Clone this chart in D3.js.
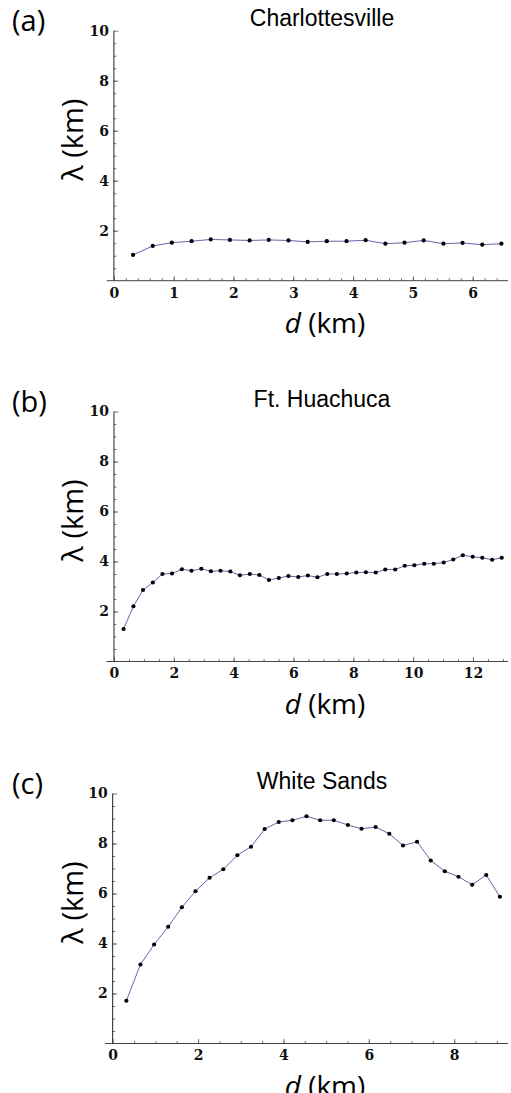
<!DOCTYPE html>
<html>
<head>
<meta charset="utf-8">
<script src="https://cdn.jsdelivr.net/npm/d3@7"></script>
<style>
  body { margin: 0; background: #fff; }
  .tick text { font-family: "DejaVu Serif", serif; font-weight: bold; font-size: 14px; fill: #111; }
  .tick line { stroke: #555; stroke-width: 0.8; }
</style>
</head>
<body>
<div id="vis-container"></div>
<script>
// lambda (km) vs d (km)
var dA = [0.32, 0.65, 0.97, 1.30, 1.62, 1.94, 2.27, 2.59, 2.92, 3.24, 3.56, 3.89, 4.21, 4.54, 4.86, 5.18, 5.51, 5.83, 6.16, 6.48];
var lamA = [1.03, 1.39, 1.52, 1.58, 1.65, 1.63, 1.61, 1.63, 1.61, 1.55, 1.58, 1.58, 1.62, 1.48, 1.52, 1.61, 1.48, 1.51, 1.44, 1.48];

var dB = [0.32, 0.65, 0.97, 1.30, 1.62, 1.94, 2.27, 2.59, 2.92, 3.24, 3.56, 3.89, 4.21, 4.54, 4.86, 5.18, 5.51, 5.83, 6.16, 6.48,
          6.80, 7.13, 7.45, 7.78, 8.10, 8.42, 8.75, 9.07, 9.40, 9.72, 10.04, 10.37, 10.69, 11.02, 11.34, 11.66, 11.99, 12.31, 12.64, 12.96];
var lamB = [1.30, 2.21, 2.86, 3.16, 3.50, 3.52, 3.69, 3.63, 3.71, 3.61, 3.63, 3.60, 3.45, 3.50, 3.46, 3.26, 3.34, 3.42, 3.38, 3.44,
            3.37, 3.50, 3.50, 3.52, 3.56, 3.57, 3.56, 3.68, 3.68, 3.83, 3.85, 3.91, 3.91, 3.96, 4.08, 4.25, 4.19, 4.15, 4.07, 4.15];

var dC = [0.32, 0.65, 0.97, 1.30, 1.62, 1.94, 2.27, 2.59, 2.92, 3.24, 3.56, 3.89, 4.21, 4.54, 4.86, 5.18, 5.51, 5.83, 6.16, 6.48,
          6.80, 7.13, 7.45, 7.78, 8.10, 8.42, 8.75, 9.07];
var lamC = [1.71, 3.16, 3.96, 4.67, 5.45, 6.09, 6.63, 6.97, 7.53, 7.87, 8.58, 8.86, 8.93, 9.09, 8.93, 8.93, 8.74, 8.59, 8.66, 8.39,
            7.92, 8.07, 7.32, 6.89, 6.67, 6.35, 6.74, 5.87];

var titles = ["Charlottesville", "Ft. Huachuca", "White Sands"];
var tags = ["(a)", "(b)", "(c)"];
var xTicksA = [0, 1, 2, 3, 4, 5, 6];
var xTicksB = [0, 2, 4, 6, 8, 10, 12];
var xTicksC = [0, 2, 4, 6, 8];
var yTicks = [2, 4, 6, 8, 10];

var svg = d3.select("#vis-container").append("svg")
    .attr("width", 511)
    .attr("height", 1093);

var drawPanel = function(opt) {
    var x = d3.scaleLinear().domain(opt.xDomain).range([opt.left, 508]);
    var y = d3.scaleLinear().domain([0, 10]).range([opt.top + 250, opt.top]);
    var g = svg.append("g");

    // minor ticks
    g.append("g")
        .attr("transform", "translate(" + x(0) + ",0)")
        .call(d3.axisLeft(y).tickValues(d3.range(0.5, 10, 0.5)).tickSize(-2.5).tickFormat(""))
        .call(function(s) { s.select(".domain").remove(); });
    g.append("g")
        .attr("transform", "translate(0," + y(0) + ")")
        .call(d3.axisBottom(x).tickValues(d3.range(opt.minorStep, opt.xDomain[1], opt.minorStep)).tickSize(-2.5).tickFormat(""))
        .call(function(s) { s.select(".domain").remove(); });

    // major ticks
    g.append("g")
        .attr("transform", "translate(" + x(0) + ",0)")
        .call(d3.axisLeft(y).tickValues(yTicks).tickSize(-4.5).tickPadding(5).tickFormat(d3.format("d")))
        .call(function(s) { s.select(".domain").remove(); });
    g.append("g")
        .attr("transform", "translate(0," + y(0) + ")")
        .call(d3.axisBottom(x).tickValues(opt.xTicks).tickSize(-4.5).tickPadding(7).tickFormat(d3.format("d")))
        .call(function(s) { s.select(".domain").remove(); });

    // axis lines (x axis runs a little past the origin, like Mathematica)
    g.append("line")
        .attr("x1", x(opt.xDomain[0])).attr("x2", x(opt.xDomain[1]))
        .attr("y1", y(0)).attr("y2", y(0))
        .attr("stroke", "#444").attr("stroke-width", 1);
    g.append("line")
        .attr("x1", x(0)).attr("x2", x(0))
        .attr("y1", y(0)).attr("y2", y(10))
        .attr("stroke", "#222").attr("stroke-width", 1);

    var pts = opt.xs.map(function(d, i) { return [d, opt.ys[i]]; });

    g.append("path")
        .datum(pts)
        .attr("fill", "none")
        .attr("stroke", "#5252a8")
        .attr("stroke-width", 0.9)
        .attr("d", d3.line().x(function(d) { return x(d[0]); }).y(function(d) { return y(d[1]); }));

    g.selectAll("circle.pt")
        .data(pts)
        .enter().append("circle")
        .attr("class", "pt")
        .attr("cx", function(d) { return x(d[0]); })
        .attr("cy", function(d) { return y(d[1]); })
        .attr("r", 2.1)
        .attr("fill", "#000");

    // title, panel tag, axis labels
    g.append("text")
        .attr("x", 322).attr("y", opt.top - 5)
        .attr("text-anchor", "middle")
        .style("font-family", "'Liberation Sans', Arial, sans-serif")
        .style("font-size", "23px")
        .text(opt.title);
    g.append("text")
        .attr("x", 12).attr("y", opt.top + 0.5)
        .style("font-family", "'Open Sans', sans-serif")
        .style("font-size", "29px")
        .text(opt.tag);
    g.append("text")
        .attr("transform", "translate(83," + (opt.top + 109) + ") rotate(-90)")
        .attr("text-anchor", "middle")
        .style("font-family", "'Open Sans', sans-serif")
        .style("font-size", "29px")
        .text("\u03bb (km)");
    var xl = g.append("text")
        .attr("x", 325).attr("y", y(0) + 52)
        .attr("text-anchor", "middle")
        .style("font-family", "'Open Sans', sans-serif")
        .style("font-size", "28px");
    xl.append("tspan").style("font-style", "italic").text("d");
    xl.append("tspan").text(" (km)");
};

drawPanel({ xs: dA, ys: lamA, xTicks: xTicksA, xDomain: [-0.12, 6.59], left: 106.7, minorStep: 0.2, top: 30.7, title: titles[0], tag: tags[0] });
drawPanel({ xs: dB, ys: lamB, xTicks: xTicksB, xDomain: [-0.25, 13.17], left: 106.5, minorStep: 0.5, top: 411.5, title: titles[1], tag: tags[1] });
drawPanel({ xs: dC, ys: lamC, xTicks: xTicksC, xDomain: [-0.18, 9.26], left: 105, minorStep: 0.5, top: 793.5, title: titles[2], tag: tags[2] });
</script>
</body>
</html>
